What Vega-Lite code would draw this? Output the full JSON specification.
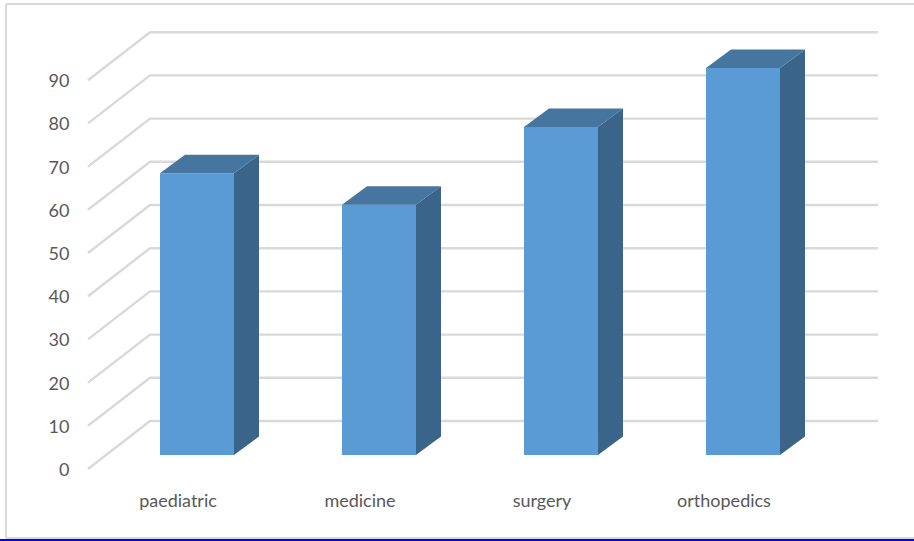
{
"$schema":"https://vega.github.io/schema/vega-lite/v6.json",
"width":914,"height":541,"padding":0,"autosize":"none",
"background":"white",
"config":{"view":{"stroke":null}},
"datasets":{
"bars":[{"category":"paediatric","value":65.2},{"category":"medicine","value":57.9},{"category":"surgery","value":75.9},{"category":"orthopedics","value":89.6}],
"levels":[{"level":0},{"level":10},{"level":20},{"level":30},{"level":40},{"level":50},{"level":60},{"level":70},{"level":80},{"level":90}],
"frame":[{"part":"top","a":-0.846,"b":4.1429,"c":107.64,"d":107.64,"colour":"grey"},{"part":"left","a":-0.846,"b":-0.846,"c":107.64,"d":-15.97,"colour":"grey"},{"part":"bottom","a":-0.846,"b":4.1429,"c":-15.97,"d":-15.97,"colour":"grey"},{"part":"edge","a":-0.8791,"b":4.1429,"c":-16.44,"d":-16.44,"colour":"blue"}]
},
"data":{"name":"bars"},
"encoding":{
"x":{"field":"px","type":"quantitative","scale":{"domain":[-0.8791,4.1429]},"axis":null},
"y":{"field":"py","type":"quantitative","scale":{"domain":[-16.67,108.56]},"axis":{"values":[0,10,20,30,40,50,60,70,80,90],"title":null,"domain":false,"ticks":false,"grid":false,"offset":-69,"labelPadding":0,"labelOffset":1.5,"labelFont":"Lato","labelFontSize":18,"labelColor":"#595959"}}
},
"layer":[
{"data":{"name":"levels"},
"transform":[{"calculate":"[0,1,2]","as":"k"},{"flatten":["k"]},
{"calculate":"[-0.3956,-0.0549,3.945][datum.k]","as":"px"},
{"calculate":"datum.level+(datum.k>0?11.11:0)","as":"py"}],
"mark":{"type":"line","color":"#D9D9D9","strokeWidth":2.4,"strokeJoin":"miter"},
"encoding":{"detail":{"field":"level"},"order":{"field":"k"}}},
{"transform":[{"calculate":"indexof(['paediatric','medicine','surgery','orthopedics'],datum.category)","as":"i"},{"calculate":"datum.i","as":"px"},{"calculate":"datum.i+0.4066","as":"px2"},{"calculate":"3.24","as":"py"},{"calculate":"datum.value+3.24","as":"py2"}],
"mark":{"type":"rect","color":"#5B9BD5"},
"encoding":{"x2":{"field":"px2"},"y2":{"field":"py2"}}},
{"transform":[{"calculate":"indexof(['paediatric','medicine','surgery','orthopedics'],datum.category)","as":"i"},{"calculate":"[0,1]","as":"k"},{"flatten":["k"]},
{"calculate":"datum.i+0.4066+datum.k*0.1374","as":"px"},
{"calculate":"3.24+datum.k*4.28","as":"py"},
{"calculate":"datum.value+3.24+datum.k*4.28","as":"py2"}],
"mark":{"type":"area","color":"#3A6489"},
"encoding":{"y2":{"field":"py2"},"detail":{"field":"category"}}},
{"transform":[{"calculate":"indexof(['paediatric','medicine','surgery','orthopedics'],datum.category)","as":"i"},{"calculate":"[0,1]","as":"k"},{"flatten":["k"]},
{"calculate":"datum.i+datum.k*0.1374","as":"px"},
{"calculate":"datum.i+0.4066+datum.k*0.1374","as":"px2"},
{"calculate":"datum.value+3.24+datum.k*4.28","as":"py"}],
"mark":{"type":"area","color":"#4675A0","orient":"horizontal"},
"encoding":{"x2":{"field":"px2"},"detail":{"field":"category"}}},
{"transform":[{"calculate":"indexof(['paediatric','medicine','surgery','orthopedics'],datum.category)","as":"i"},{"calculate":"datum.i+0.0989","as":"px"},{"calculate":"-7.7","as":"py"}],
"mark":{"type":"text","font":"Lato","fontSize":18,"color":"#595959","align":"center","baseline":"middle"},
"encoding":{"text":{"field":"category"}}},
{"data":{"name":"frame"},
"mark":{"type":"rule","strokeWidth":2},
"encoding":{"x":{"field":"a","type":"quantitative"},"x2":{"field":"b"},"y":{"field":"c","type":"quantitative"},"y2":{"field":"d"},
"color":{"field":"colour","type":"nominal","scale":{"domain":["grey","blue"],"range":["#D9D9D9","#0000FF"]},"legend":null}}}
]
}
